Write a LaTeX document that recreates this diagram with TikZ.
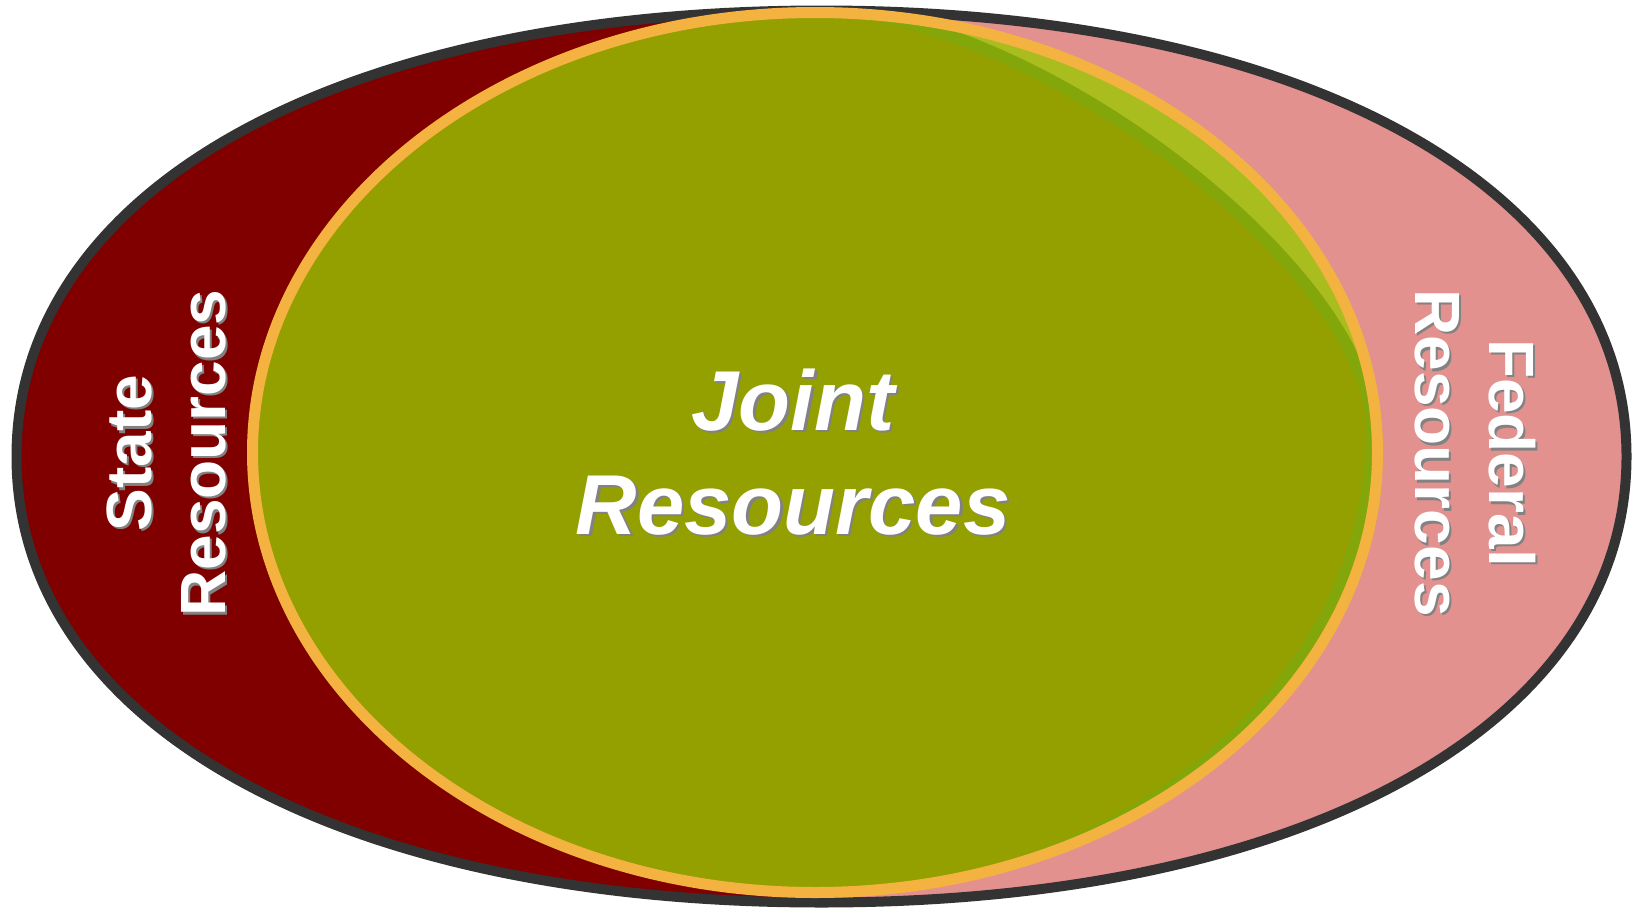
\documentclass[tikz,border=0pt]{standalone}
\usepackage{fontspec}
\setmainfont{Liberation Sans}
\usepackage{tikz}

\definecolor{statered}{RGB}{128,0,0}
\definecolor{fedpink}{RGB}{227,145,142}
\definecolor{rimgray}{RGB}{51,51,51}
\definecolor{jointolive}{RGB}{147,160,0}
\definecolor{jointdark}{RGB}{131,166,10}
\definecolor{jointlight}{RGB}{169,189,30}
\definecolor{ringorange}{RGB}{244,178,64}
\definecolor{shadegray}{RGB}{130,130,130}

\tikzset{
  lbl/.style={text=white, inner sep=0pt, align=center, font=\bfseries\fontsize{64}{74}\selectfont},
  lblshade/.style={lbl, text=shadegray},
  jointlbl/.style={text=white, inner sep=0pt, align=center, font=\bfseries\itshape\fontsize{85}{104}\selectfont},
  jointshade/.style={jointlbl, text=shadegray}
}

\begin{document}
\begin{tikzpicture}[x=1pt,y=1pt,yscale=-1]
    \useasboundingbox (0,0) rectangle (1636,908);

    % outer oval, federal side
    \fill[fedpink] (1626.5,456.5) .. controls (1626.5,188.9) and (1304.5,10.5) .. (821.5,10.5) .. controls (338.5,10.5) and (16.5,188.9) .. (16.5,456.5) .. controls (16.5,724.1) and (338.5,902.5) .. (821.5,902.5) .. controls (1304.5,902.5) and (1626.5,724.1) .. (1626.5,456.5) -- cycle;
    % state side
    \begin{scope}
      \clip (1626.5,456.5) .. controls (1626.5,188.9) and (1304.5,10.5) .. (821.5,10.5) .. controls (338.5,10.5) and (16.5,188.9) .. (16.5,456.5) .. controls (16.5,724.1) and (338.5,902.5) .. (821.5,902.5) .. controls (1304.5,902.5) and (1626.5,724.1) .. (1626.5,456.5) -- cycle;
      \fill[statered] (0,0) rectangle (800,908);
    \end{scope}
    % rim
    \draw[rimgray, line width=10] (1626.5,456.5) .. controls (1626.5,188.9) and (1304.5,10.5) .. (821.5,10.5) .. controls (338.5,10.5) and (16.5,188.9) .. (16.5,456.5) .. controls (16.5,724.1) and (338.5,902.5) .. (821.5,902.5) .. controls (1304.5,902.5) and (1626.5,724.1) .. (1626.5,456.5) -- cycle;

    % joint oval, lighter layers
    \begin{scope}
      \clip (815,452.5) ellipse [x radius=562.5, y radius=440];
      \fill[jointlight] (815,452.5) ellipse [x radius=562.5, y radius=440];
      \draw[jointdark, line width=24] (815,15.5) .. controls (506.3,15.5) and (256,211.1) .. (256,452.5) .. controls (256,693.9) and (506.3,889.5) .. (815,889.5) .. controls (1118,889.5) and (1366,682.7) .. (1366,430) .. controls (1366,275) and (1030,15.5) .. (815,15.5) -- cycle;
    \end{scope}
    % joint oval, main fill
    \fill[jointolive] (815,15.5) .. controls (506.3,15.5) and (256,211.1) .. (256,452.5) .. controls (256,693.9) and (506.3,889.5) .. (815,889.5) .. controls (1118,889.5) and (1366,682.7) .. (1366,430) .. controls (1366,275) and (1030,15.5) .. (815,15.5) -- cycle;
    % ring
    \draw[ringorange, line width=11] (815,452.5) ellipse [x radius=562.5, y radius=440];

    % labels
    \node[lblshade, rotate=90] (stateshd) at (168.5,455.5) {State\\Resources};
    \node[lbl, rotate=90] (state) at (166,453) {State\\Resources};
    \node[lblshade, rotate=-90] (federalshd) at (1477.5,455.5) {Federal\\Resources};
    \node[lbl, rotate=-90] (federal) at (1475,453) {Federal\\Resources};
    \node[jointshade] (jointshd) at (795.5,454.5) {Joint\\Resources};
    \node[jointlbl] (joint) at (793,452) {Joint\\Resources};
\end{tikzpicture}
\end{document}
